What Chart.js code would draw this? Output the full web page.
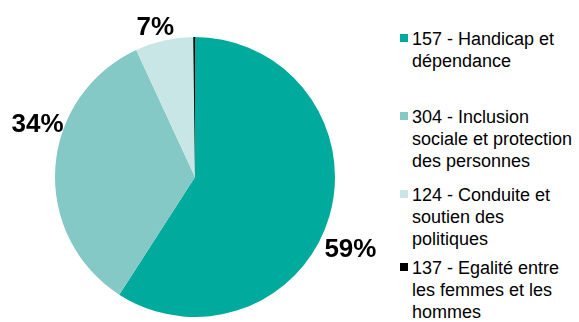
<!DOCTYPE html>
<html lang="fr">
<head>
<meta charset="UTF-8">
<title>Répartition par programme</title>
<script src="https://cdn.jsdelivr.net/npm/chart.js"></script>
<style>
    html, body { margin: 0; padding: 0; background: #fff; }
    #wrap { position: relative; width: 579px; height: 322px; overflow: hidden; font-family: "Liberation Sans", Arial, sans-serif; }
    #pieBox { position: absolute; left: 0; top: 0; width: 390px; height: 322px; }
    #legend { position: absolute; left: 0; top: 0; }
    .item { position: absolute; left: 400px; width: 179px; font-size: 18px; line-height: 21.8px; color: #000; }
    .item .box { position: absolute; left: 0; top: 5px; width: 8px; height: 8px; }
    .item .txt { margin-left: 12px; white-space: nowrap; }
</style>
</head>
<body>
<div id="wrap">
    <div id="pieBox"><canvas id="pie"></canvas></div>
    <div id="legend"></div>
</div>
<script>
    // programmes (one array entry per legend line)
    const categories = [
        ['157 - Handicap et', 'dépendance'],
        ['304 - Inclusion', 'sociale et protection', 'des personnes'],
        ['124 - Conduite et', 'soutien des', 'politiques'],
        ['137 - Egalité entre', 'les femmes et les', 'hommes']
    ];
    // share of the total, in percent
    const shares = [59.1, 34.0, 6.7, 0.2];
    const colors = ['#00AA9D', '#85C9C7', '#C8E6E5', '#000000'];

    // where each percentage sits around the pie: angle from 12 o'clock, distance in radii
    const labelSpots = [
        { deg: 114.5, r: 1.22 },
        { deg: 289, r: 1.19 },
        { deg: 345.3, r: 1.12 },
        null
    ];
    // top of each legend entry
    const legendTops = [29, 107, 185, 258];

    const outsideLabels = {
        id: 'outsideLabels',
        afterDatasetsDraw(chart) {
            const ctx = chart.ctx;
            const arc = chart.getDatasetMeta(0).data[0];
            const cx = arc.x, cy = arc.y, R = arc.outerRadius;
            ctx.save();
            ctx.font = 'bold 26px "Liberation Sans", Arial, sans-serif';
            ctx.fillStyle = '#000';
            ctx.textAlign = 'center';
            ctx.textBaseline = 'alphabetic';
            shares.forEach((v, i) => {
                const spot = labelSpots[i];
                if (!spot) return;
                const a = spot.deg * Math.PI / 180;
                const x = cx + Math.sin(a) * R * spot.r;
                const y = cy - Math.cos(a) * R * spot.r;
                ctx.fillText(Math.round(v) + '%', x, y + 9.5);
            });
            ctx.restore();
        }
    };

    new Chart(document.getElementById('pie'), {
        type: 'pie',
        data: {
            labels: categories,
            datasets: [{
                data: shares,
                backgroundColor: colors,
                borderWidth: 0
            }]
        },
        options: {
            responsive: true,
            maintainAspectRatio: false,
            animation: false,
            layout: { padding: { top: 37, bottom: 5, left: 55, right: 55 } },
            plugins: {
                legend: { display: false },
                tooltip: { enabled: false }
            }
        },
        plugins: [outsideLabels]
    });

    // legend beside the pie
    const legend = document.getElementById('legend');
    categories.forEach((lines, i) => {
        const item = document.createElement('div');
        item.className = 'item';
        item.style.top = legendTops[i] + 'px';
        const box = document.createElement('div');
        box.className = 'box';
        box.style.background = colors[i];
        const txt = document.createElement('div');
        txt.className = 'txt';
        txt.innerHTML = lines.join('<br>');
        item.appendChild(box);
        item.appendChild(txt);
        legend.appendChild(item);
    });
</script>
</body>
</html>
